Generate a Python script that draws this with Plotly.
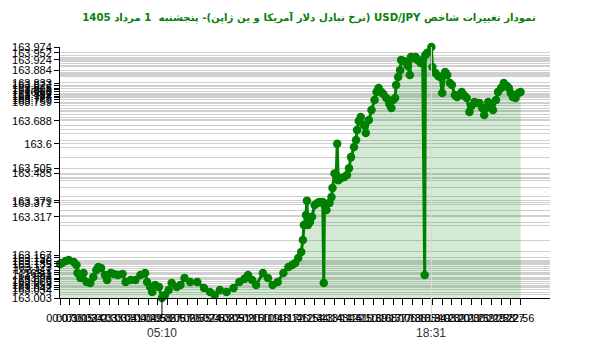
import plotly.graph_objects as go

times = ["00:07","00:13","00:24","00:33","00:48","00:56","00:59","01:08","01:17","01:26",
         "01:37","01:46","01:55","02:01","02:09","02:21","02:27","02:38","02:47","02:59",
         "03:13","03:22","03:37","03:51","04:06","04:20","04:26","04:35","04:41","04:50",
         "05:01","05:10","05:19","05:30","05:39","05:54","06:05","06:17","06:34","06:55",
         "07:15","07:33","07:47","08:02","08:22","08:43","09:00","09:15","09:26","09:38",
         "09:50","10:10","10:25","10:39","10:54","11:11","11:26","11:37","11:46","11:55",
         "12:04","12:09","12:12","12:18","12:21","12:24","12:30","12:36","12:44","12:53",
         "12:59","13:08","13:11","13:13","13:19","13:28","13:34","13:37","13:43","13:48",
         "13:51","13:54","14:03","14:12","14:20","14:26","14:32","14:41","14:47","14:50",
         "14:55","15:01","15:10","15:16","15:25","15:33","15:42","15:48","15:54","16:02",
         "16:08","16:17","16:26","16:32","16:37","16:43","16:46","16:52","16:58","17:01",
         "17:09","17:15","17:21","17:27","17:30","17:38","17:44","17:50","17:59","18:05",
         "18:11","18:13","18:19","18:31","18:34","18:43","18:51","18:57","19:03","19:12",
         "19:18","19:26","19:32","19:41","19:47","19:55","20:01","20:10","20:16","20:24",
         "20:30","20:39","20:48","20:54","21:02","21:08","21:14","21:20","21:29","21:34",
         "21:43","21:49","21:58","22:06","22:15","22:21","22:27","22:33","22:41","22:50",
         "22:56"]

values = [163.135,163.138,163.146,163.150,163.142,163.131,163.100,163.080,163.100,163.065,
          163.061,163.084,163.111,163.123,163.119,163.092,163.073,163.100,163.096,163.092,
          163.096,163.065,163.073,163.073,163.092,163.100,163.065,163.046,163.026,163.053,
          163.046,163.003,163.015,163.034,163.061,163.046,163.053,163.080,163.065,163.065,
          163.042,163.026,163.015,163.034,163.026,163.042,163.065,163.077,163.092,163.073,
          163.053,163.100,163.080,163.053,163.065,163.100,163.123,163.131,163.138,163.158,
          163.181,163.227,163.285,163.324,163.379,163.285,163.297,163.317,163.363,163.371,
          163.374,163.374,163.061,163.363,163.343,163.371,163.394,163.429,163.485,163.479,
          163.600,163.459,163.467,163.471,163.479,163.505,163.548,163.587,163.614,163.653,
          163.688,163.703,163.672,163.641,163.692,163.730,163.769,163.800,163.815,163.800,
          163.792,163.777,163.754,163.738,163.769,163.777,163.827,163.858,163.884,163.924,
          163.920,163.916,163.901,163.866,163.935,163.931,163.935,163.924,163.912,163.924,
          163.092,163.943,163.952,163.974,163.897,163.873,163.862,163.858,163.796,163.877,
          163.866,163.835,163.827,163.788,163.781,163.788,163.800,163.784,163.777,163.723,
          163.746,163.761,163.757,163.757,163.738,163.711,163.738,163.761,163.746,163.730,
          163.769,163.800,163.815,163.835,163.823,163.815,163.796,163.781,163.777,163.796,
          163.800]

y_tick_values = [163.974,163.952,163.924,163.884,163.833,163.827,163.815,163.808,163.8,
                 163.792,163.784,163.777,163.769,163.759,163.688,163.6,163.505,163.485,
                 163.379,163.371,163.317,163.167,163.158,163.146,163.135,163.123,163.111,
                 163.1,163.092,163.08,163.073,163.065,163.053,163.042,163.034,163.003]

x_tick_labels = ["00:07","00:36","01:05","01:34","02:03","02:33","03:02","03:31","04:00","04:29",
                 "04:58","05:27","05:57","06:26","06:55","07:24","07:53","08:22","08:51","09:20",
                 "09:50","10:19","10:48","11:17","11:46","12:15","12:44","13:13","13:43","14:12",
                 "14:41","15:10","15:39","16:08","16:37","17:06","17:36","18:05","18:34","19:03",
                 "19:32","20:01","20:30","20:59","21:29","21:58","22:27","22:56"]

min_label = "05:10"
max_label = "18:31"
title_text = "نمودار تغییرات شاخص USD/JPY (نرخ تبادل دلار آمریکا و ین ژاپن)- پنجشنبه  1 مرداد 1405"


def to_min(t):
    h, m = t.split(":")
    return int(h) * 60 + int(m)


x = [to_min(t) for t in times]
y_lo, y_hi = min(values), max(values)

fig = go.Figure()
fig.add_trace(go.Scatter(
    x=x, y=values, mode="lines+markers",
    line=dict(color="#008000", width=3),
    marker=dict(color="#008000", size=8.5),
    fill="tozeroy", fillcolor="rgba(0,128,0,0.17)",
    cliponaxis=False, showlegend=False, hoverinfo="skip",
))
fig.add_trace(go.Scatter(x=[None], y=[None], yaxis="y2", showlegend=False, hoverinfo="skip"))

font_main = "Liberation Sans, Arial, sans-serif"

fig.update_layout(
    width=600, height=352,
    margin=dict(l=50, r=50, t=47, b=54),
    paper_bgcolor="white", plot_bgcolor="white",
    showlegend=False,
    title=dict(
        text="<b>\u202b" + title_text + "\u202c</b>",
        x=0.515, xanchor="center", y=1 - 17 / 352, yanchor="middle", yref="container",
        font=dict(family="DejaVu Sans, sans-serif", size=10.2, color="#0a800a"),
    ),
    xaxis=dict(
        range=[7, 1463.5],
        tickmode="array",
        tickvals=[to_min(t) for t in x_tick_labels],
        ticktext=x_tick_labels,
        ticks="outside", ticklen=6, tickcolor="black",
        ticklabelstandoff=4,
        showline=True, linecolor="black", linewidth=1,
        showgrid=False, zeroline=False,
        tickangle=0,
        tickfont=dict(family=font_main, size=11, color="black"),
    ),
    yaxis=dict(
        range=[y_lo, y_hi],
        tickmode="array",
        tickvals=y_tick_values,
        ticktext=[f"{v:g}" for v in y_tick_values],
        ticks="outside", ticklen=5, tickcolor="black",
        showline=True, linecolor="black", linewidth=1,
        showgrid=False, zeroline=False,
        tickfont=dict(family=font_main, size=11, color="black"),
    ),
    yaxis2=dict(
        overlaying="y", side="left",
        range=[y_lo, y_hi],
        tickmode="array", tickvals=values,
        showticklabels=False, ticks="",
        showgrid=True, gridcolor="#d0d0d0", gridwidth=1,
        showline=False, zeroline=False,
    ),
    shapes=[
        dict(type="line", xref="x", yref="paper",
             x0=to_min(max_label), x1=to_min(max_label), y0=-0.09, y1=1.0,
             line=dict(color="#dadada", width=1), layer="above"),
        dict(type="line", xref="x", yref="paper",
             x0=to_min(min_label), x1=to_min(min_label), y0=-0.08, y1=0.0,
             line=dict(color="black", width=1), layer="above"),
    ],
    annotations=[
        dict(text=min_label, x=to_min(min_label), xref="x", y=-0.139, yref="paper",
             yanchor="middle", showarrow=False,
             font=dict(family=font_main, size=12, color="#333333")),
        dict(text=max_label, x=to_min(max_label), xref="x", y=-0.139, yref="paper",
             yanchor="middle", showarrow=False,
             font=dict(family=font_main, size=12, color="#333333")),
    ],
)

fig.write_html("out.html")
